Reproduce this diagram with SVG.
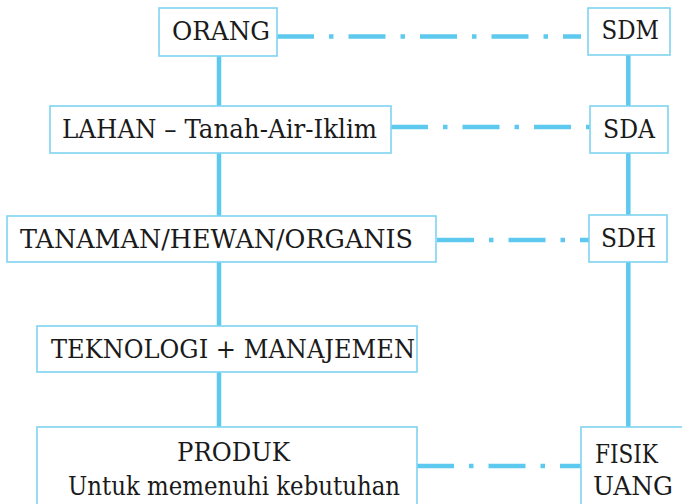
<svg xmlns="http://www.w3.org/2000/svg" width="682" height="504" viewBox="0 0 682 504">
<style>
.box{fill:#ffffff;stroke:#7fd4f2;stroke-width:1.6}
.t{font-family:'DejaVu Serif','Liberation Serif',serif;font-size:26px;fill:#1a1a1a}
.solid{stroke:#5ec9ef;stroke-width:4.5;fill:none}
.dash{stroke:#5ec9ef;stroke-width:4.5;fill:none;stroke-dasharray:37 15 4.5 15}
</style>
<rect width="682" height="504" fill="#ffffff"/>
<g id="connectors">
<line class="solid" x1="219" y1="56" x2="219" y2="106"/>
<line class="solid" x1="219" y1="153" x2="219" y2="216"/>
<line class="solid" x1="219" y1="262" x2="219" y2="326"/>
<line class="solid" x1="219" y1="372" x2="219" y2="427"/>
<line class="solid" x1="628.3" y1="55" x2="628.3" y2="106"/>
<line class="solid" x1="628.3" y1="153" x2="628.3" y2="215"/>
<line class="solid" x1="628.3" y1="262" x2="628.3" y2="427"/>
<line class="dash" x1="277" y1="36.5" x2="581" y2="36.5"/>
<line class="dash" x1="391" y1="127" x2="590" y2="127"/>
<line class="dash" x1="437" y1="240" x2="589" y2="240"/>
<line class="dash" x1="417" y1="466" x2="581" y2="466"/>
</g>
<g id="orang">
<rect class="box" x="159" y="8" width="118" height="48"/>
<text class="t" x="172" y="39.5" textLength="98" lengthAdjust="spacingAndGlyphs">ORANG</text>
</g>
<g id="sdm">
<rect class="box" x="588" y="8" width="82" height="47"/>
<text class="t" x="601.5" y="39" textLength="57.5" lengthAdjust="spacingAndGlyphs">SDM</text>
</g>
<g id="lahan">
<rect class="box" x="50" y="106" width="341" height="47"/>
<text class="t" x="62" y="137.5" textLength="315" lengthAdjust="spacingAndGlyphs">LAHAN – Tanah-Air-Iklim</text>
</g>
<g id="sda">
<rect class="box" x="590" y="106" width="78" height="47"/>
<text class="t" x="603" y="138" textLength="52" lengthAdjust="spacingAndGlyphs">SDA</text>
</g>
<g id="tanaman">
<rect class="box" x="7" y="216" width="429" height="46"/>
<text class="t" x="20" y="248" textLength="393" lengthAdjust="spacingAndGlyphs">TANAMAN/HEWAN/ORGANIS</text>
</g>
<g id="sdh">
<rect class="box" x="589" y="215" width="78" height="47"/>
<text class="t" x="601" y="246.5" textLength="55" lengthAdjust="spacingAndGlyphs">SDH</text>
</g>
<g id="teknologi">
<rect class="box" x="37" y="326" width="380" height="46"/>
<text class="t" x="51" y="358" textLength="364" lengthAdjust="spacingAndGlyphs">TEKNOLOGI + MANAJEMEN</text>
</g>
<g id="produk">
<rect class="box" x="37" y="427" width="380" height="90"/>
<text class="t" x="177" y="461" textLength="113" lengthAdjust="spacingAndGlyphs">PRODUK</text>
<text class="t" x="68" y="495" textLength="332" lengthAdjust="spacingAndGlyphs">Untuk memenuhi kebutuhan</text>
</g>
<g id="fisik">
<rect class="box" x="581" y="427" width="120" height="90"/>
<text class="t" x="595" y="463" textLength="63" lengthAdjust="spacingAndGlyphs">FISIK</text>
<text class="t" x="593" y="495" textLength="80" lengthAdjust="spacingAndGlyphs">UANG</text>
</g>
</svg>
